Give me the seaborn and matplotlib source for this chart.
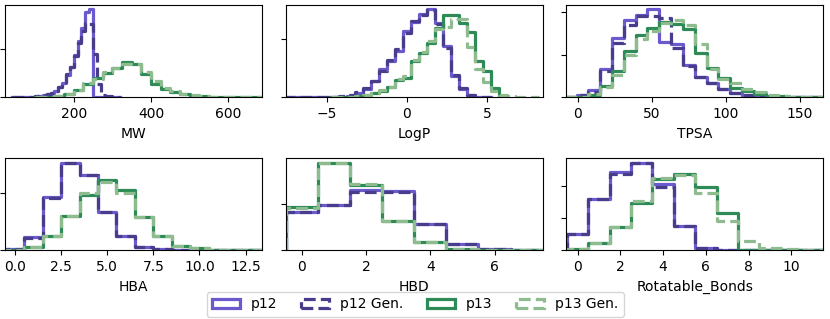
import numpy as np
import pandas as pd
import matplotlib
matplotlib.use("Agg")
import matplotlib.pyplot as plt
from matplotlib.patches import Patch
from matplotlib.ticker import MultipleLocator
import seaborn as sns

# Densities (bin edges + height per bin)
# MW and TPSA heights are given in units of 1e-3
mw_edges_p12 = np.arange(50, 320, 10)
mw_p12 = [0.07, 0.07, 0.07, 0.14, 0.14, 0.21, 0.28, 0.41, 0.62, 0.9, 1.38, 2.07, 3.1,
          4.7, 6.35, 8.83, 11.7, 14.5, 17.8, 18.3, 0, 0, 0, 0, 0, 0]
mw_p12_gen = [0.07, 0.07, 0.1, 0.14, 0.17, 0.21, 0.3, 0.45, 0.65, 0.95, 1.4, 2.1, 3.2,
              4.8, 6.4, 8.6, 11.3, 13.8, 15.4, 15.2, 9.0, 2.8, 0.55, 0.3, 0.2, 0.07]
mw_edges_p13 = np.arange(125, 700, 25)
mw_p13 = [0.14, 0.35, 0.69, 1.52, 2.76, 4.0, 5.18, 6.07, 7.31, 6.9, 4.97, 2.76, 1.79,
          1.1, 0.69, 0.35, 0.2, 0.14, 0.07, 0.05, 0.03, 0.02]
mw_p13_gen = [0.14, 0.38, 0.8, 1.6, 2.9, 3.9, 5.3, 6.2, 7.0, 7.0, 5.2, 3.4, 2.0,
              1.3, 0.8, 0.45, 0.28, 0.18, 0.12, 0.1, 0.08, 0.05]

logp_edges_p12 = np.arange(-7.25, 5.0, 0.5)
logp_p12 = [0.001, 0.001, 0.001, 0.001, 0.001, 0.002, 0.003, 0.006, 0.015, 0.029, 0.055,
            0.096, 0.125, 0.160, 0.229, 0.258, 0.287, 0.302, 0.255, 0.177, 0.073, 0.029,
            0.007, 0.002]
logp_p12_gen = [0.001, 0.001, 0.001, 0.001, 0.002, 0.003, 0.004, 0.007, 0.017, 0.031, 0.058,
                0.092, 0.128, 0.165, 0.222, 0.262, 0.283, 0.300, 0.252, 0.170, 0.078, 0.031,
                0.009, 0.003]
logp_edges_p13 = np.arange(-4.25, 6.0, 0.5)
logp_p13 = [0.002, 0.003, 0.006, 0.009, 0.014, 0.023, 0.035, 0.060, 0.067, 0.125, 0.154,
            0.188, 0.237, 0.283, 0.283, 0.254, 0.223, 0.125, 0.090, 0.032]
logp_edges_p13_gen = np.arange(-4.25, 8.0, 0.5)
logp_p13_gen = [0.002, 0.003, 0.006, 0.009, 0.014, 0.025, 0.037, 0.064, 0.072, 0.129, 0.156,
                0.194, 0.235, 0.243, 0.269, 0.269, 0.173, 0.096, 0.052, 0.023, 0.009, 0.006,
                0.003, 0.002]

tpsa_edges = np.arange(-1, 160, 8)
tpsa_p12 = [0.62, 1.64, 6.63, 13.9, 18.2, 19.3, 20.7, 13.1, 12.5, 7.6, 4.9, 3.4, 1.95,
            1.0, 0.39, 0.23, 0.16, 0.08, 0.08, 0.08]
tpsa_p12_gen = [0.62, 1.17, 6.24, 12.9, 17.0, 19.1, 19.1, 18.8, 11.7, 7.3, 4.9, 3.4, 1.95,
                1.1, 0.55, 0.31, 0.16, 0.08, 0.08, 0.04]
tpsa_p13 = [0.08, 0.62, 2.73, 6.24, 10.9, 14.7, 16.4, 17.8, 17.3, 16.0, 10.5, 7.0, 4.5,
            2.3, 1.4, 0.7, 0.39, 0.23, 0.16, 0.08]
tpsa_p13_gen = [0.1, 0.7, 2.34, 5.3, 10.1, 13.7, 15.6, 17.6, 18.3, 17.0, 12.5, 6.6, 4.3,
                3.5, 1.95, 1.17, 0.62, 0.31, 0.16, 0.08]

hba_edges = np.arange(-0.5, 13.0, 1)
hba_p12 = [0.005, 0.047, 0.188, 0.308, 0.264, 0.134, 0.05, 0.013, 0.005, 0.002, 0, 0, 0]
hba_p12_gen = [0.005, 0.045, 0.185, 0.308, 0.264, 0.136, 0.05, 0.013, 0.005, 0.002, 0, 0, 0]
hba_p13 = [0.001, 0.013, 0.052, 0.119, 0.194, 0.247, 0.212, 0.116, 0.051, 0.017, 0.007,
           0.003, 0.002]
hba_p13_gen = [0.001, 0.013, 0.052, 0.119, 0.200, 0.238, 0.200, 0.116, 0.051, 0.017, 0.007,
               0.003, 0.002]

hbd_edges = np.arange(-0.5, 8.0, 1)
hbd_p12 = [0.164, 0.193, 0.259, 0.253, 0.113, 0.027, 0.007, 0.003]
hbd_p12_gen = [0.164, 0.193, 0.249, 0.250, 0.113, 0.027, 0.007, 0.003]
hbd_p13 = [0.186, 0.377, 0.281, 0.127, 0.036, 0.007, 0.003, 0]
hbd_p13_gen = [0.182, 0.377, 0.284, 0.127, 0.036, 0.007, 0.003, 0]

rb_edges = np.arange(-0.5, 11.0, 1)
rb_p12 = [0.052, 0.159, 0.244, 0.273, 0.206, 0.077, 0.009, 0, 0, 0, 0]
rb_p12_gen = [0.052, 0.159, 0.236, 0.273, 0.198, 0.077, 0.009, 0, 0, 0, 0]
rb_p13 = [0.005, 0.023, 0.074, 0.146, 0.221, 0.236, 0.198, 0.115, 0, 0, 0]
rb_p13_gen = [0.005, 0.023, 0.074, 0.155, 0.226, 0.234, 0.179, 0.090, 0.030, 0.009, 0.004]

labels = ["p12", "p12 Gen.", "p13", "p13 Gen."]
colors = ["#6a5acd", "#483d8b", "#2e8b57", "#8fbc8f"]
styles = ["-", "--", "-", "--"]
LW = 2.3


def draw_hist(ax, edges, dens, color, ls, scale=1.0):
    edges = np.asarray(edges, float)
    w = edges[1] - edges[0]
    # empty bins at both ends so the outline drops back to zero
    edges = np.concatenate([[edges[0] - w], edges, [edges[-1] + w]])
    weights = np.concatenate([[0], np.asarray(dens, float) * scale, [0]])
    df = pd.DataFrame({"value": (edges[:-1] + edges[1:]) / 2, "w": weights})
    sns.histplot(data=df, x="value", weights="w", bins=list(edges), element="step",
                 fill=False, color=color, linestyle=ls, linewidth=LW, ax=ax)


panels = [
    ("MW", [(mw_edges_p12, mw_p12), (mw_edges_p12, mw_p12_gen),
            (mw_edges_p13, mw_p13), (mw_edges_p13, mw_p13_gen)], 1e-3, (22, 688)),
    ("LogP", [(logp_edges_p12, logp_p12), (logp_edges_p12, logp_p12_gen),
              (logp_edges_p13, logp_p13), (logp_edges_p13_gen, logp_p13_gen)], 1.0, (-7.6, 8.5)),
    ("TPSA", [(tpsa_edges, tpsa_p12), (tpsa_edges, tpsa_p12_gen),
              (tpsa_edges, tpsa_p13), (tpsa_edges, tpsa_p13_gen)], 1e-3, (-8, 166)),
    ("HBA", [(hba_edges, hba_p12), (hba_edges, hba_p12_gen),
             (hba_edges, hba_p13), (hba_edges, hba_p13_gen)], 1.0, (-0.54, 13.4)),
    ("HBD", [(hbd_edges, hbd_p12), (hbd_edges, hbd_p12_gen),
             (hbd_edges, hbd_p13), (hbd_edges, hbd_p13_gen)], 1.0, (-0.5, 7.5)),
    ("Rotatable_Bonds", [(rb_edges, rb_p12), (rb_edges, rb_p12_gen),
                         (rb_edges, rb_p13), (rb_edges, rb_p13_gen)], 1.0, (-0.54, 11.5)),
]

fig = plt.figure(figsize=(8.3, 3.19), dpi=100)
axes = fig.subplots(2, 3)
fig.subplots_adjust(left=0.006, right=0.992, top=0.984, bottom=0.215,
                    wspace=0.091, hspace=0.658)

for ax, (name, series, scale, xlim) in zip(axes.flat, panels):
    for (edges, dens), c, ls in zip(series, colors, styles):
        draw_hist(ax, edges, dens, c, ls, scale)
    ax.set_xlim(*xlim)
    ax.set_xlabel(name, fontsize=10)
    ax.set_ylabel("")
    ax.tick_params(labelleft=False)

axes[1, 2].xaxis.set_major_locator(MultipleLocator(2))

handles = [Patch(facecolor="none", edgecolor=c, linewidth=LW, linestyle=ls)
           for c, ls in zip(colors, styles)]
fig.legend(handles, labels, loc="lower center", bbox_to_anchor=(0.5, -0.015),
           ncol=4, fontsize=10, columnspacing=1.7)

fig.savefig("out.png", dpi=100)
